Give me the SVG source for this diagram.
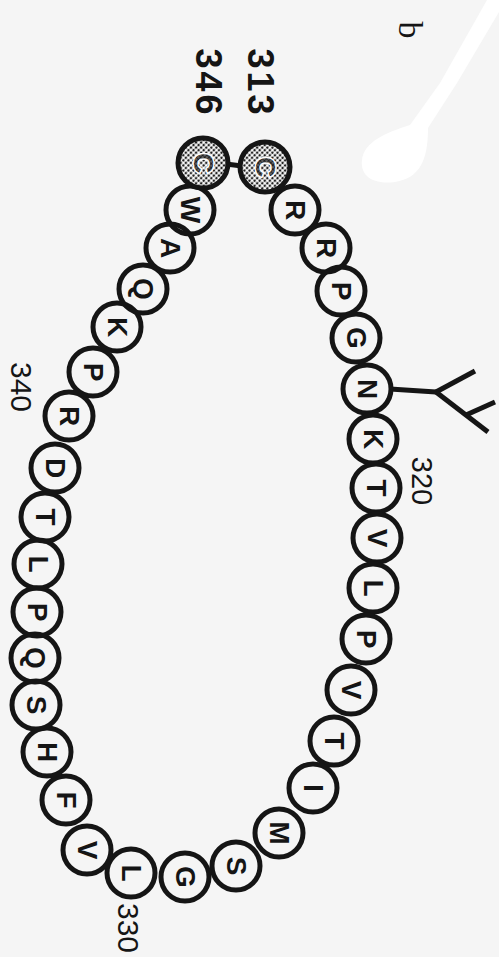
<svg xmlns="http://www.w3.org/2000/svg" width="499" height="957" viewBox="0 0 499 957">
<defs>
<pattern id="dots" width="3.6" height="3.6" patternUnits="userSpaceOnUse" patternTransform="rotate(45)"><rect width="3.6" height="3.6" fill="#fff"/><circle cx="1.8" cy="1.8" r="1.3" fill="#222"/></pattern>
<pattern id="dots2" width="3" height="3" patternUnits="userSpaceOnUse" patternTransform="rotate(45)"><rect width="3" height="3" fill="#777"/><circle cx="1.5" cy="1.5" r="1.2" fill="#111"/></pattern>
<style>
.res circle{fill:none;stroke:#151515;stroke-width:5}
.res.sh circle{fill:url(#dots)}
.res text{font-family:"Liberation Sans",Arial,sans-serif;font-weight:bold;font-size:28px;fill:#151515;text-anchor:middle;dominant-baseline:central}
.res.sh text{fill:url(#dots2);stroke:#fff;stroke-width:3;paint-order:stroke}
.num{font-family:"Liberation Sans Narrow","Liberation Sans",Arial,sans-serif;font-size:30px;fill:#151515;text-anchor:middle;dominant-baseline:central}
.big{font-family:"Liberation Sans",Arial,sans-serif;font-weight:bold;font-size:36px;letter-spacing:3px;fill:#151515;text-anchor:middle;dominant-baseline:central}
.conn line{stroke:#151515;stroke-width:5;stroke-linecap:butt}
</style>
</defs>
<rect width="499" height="957" fill="#f5f5f5"/>
<path d="M487 0 L499 0 L499 12 L457 83 L428 128 C428 160 420 178 395 182 C372 185 360 175 362 160 C364 142 385 133 410 125 L440 83 Z" fill="#fff"/>
<g id="connectors" class="conn">
<line x1="226" y1="164" x2="242" y2="166" stroke-width="4"/>
<line x1="390" y1="389" x2="436" y2="392"/>
<line x1="436" y1="392" x2="475" y2="371"/>
<line x1="436" y1="392" x2="488" y2="432"/>
<line x1="466" y1="415" x2="495" y2="402"/>
</g>
<g id="labels">
<text class="num" x="410" y="30" transform="rotate(90 410 30)" style="font-family:'Liberation Serif',serif;font-size:34px">b</text>
<text class="big" x="260" y="83" transform="rotate(90 260 83)">313</text>
<text class="big" x="208" y="83" transform="rotate(90 208 83)">346</text>
<text class="num" x="422" y="481" transform="rotate(90 422 481)" style="font-size:29px">320</text>
<text class="num" x="128" y="928" transform="rotate(90 128 928)">330</text>
<text class="num" x="21" y="387" transform="rotate(90 21 387)">340</text>
</g>
<g id="r313" class="res sh"><circle cx="265" cy="167" r="25"/><text x="265" y="167" transform="rotate(90 265 167)">C</text></g>
<g id="r314" class="res"><circle cx="295" cy="210" r="24"/><text x="295" y="210" transform="rotate(90 295 210)">R</text></g>
<g id="r315" class="res"><circle cx="326" cy="248" r="24"/><text x="326" y="248" transform="rotate(90 326 248)">R</text></g>
<g id="r316" class="res"><circle cx="341" cy="291" r="24"/><text x="341" y="291" transform="rotate(90 341 291)">P</text></g>
<g id="r317" class="res"><circle cx="356" cy="338" r="24"/><text x="356" y="338" transform="rotate(90 356 338)">G</text></g>
<g id="r318" class="res"><circle cx="367" cy="389" r="24"/><text x="367" y="389" transform="rotate(90 367 389)">N</text></g>
<g id="r319" class="res"><circle cx="373" cy="439" r="24"/><text x="373" y="439" transform="rotate(90 373 439)">K</text></g>
<g id="r320" class="res"><circle cx="376" cy="488" r="24"/><text x="376" y="488" transform="rotate(90 376 488)">T</text></g>
<g id="r321" class="res"><circle cx="377" cy="538" r="24"/><text x="377" y="538" transform="rotate(90 377 538)">V</text></g>
<g id="r322" class="res"><circle cx="373" cy="588" r="24"/><text x="373" y="588" transform="rotate(90 373 588)">L</text></g>
<g id="r323" class="res"><circle cx="366" cy="639" r="24"/><text x="366" y="639" transform="rotate(90 366 639)">P</text></g>
<g id="r324" class="res"><circle cx="351" cy="690" r="24"/><text x="351" y="690" transform="rotate(90 351 690)">V</text></g>
<g id="r325" class="res"><circle cx="334" cy="741" r="24"/><text x="334" y="741" transform="rotate(90 334 741)">T</text></g>
<g id="r326" class="res"><circle cx="313" cy="788" r="24"/><text x="313" y="788" transform="rotate(90 313 788)">I</text></g>
<g id="r327" class="res"><circle cx="279" cy="833" r="24"/><text x="279" y="833" transform="rotate(90 279 833)">M</text></g>
<g id="r328" class="res"><circle cx="236" cy="866" r="24"/><text x="236" y="866" transform="rotate(90 236 866)">S</text></g>
<g id="r329" class="res"><circle cx="185" cy="877" r="24"/><text x="185" y="877" transform="rotate(90 185 877)">G</text></g>
<g id="r330" class="res"><circle cx="131" cy="873" r="24"/><text x="131" y="873" transform="rotate(90 131 873)">L</text></g>
<g id="r331" class="res"><circle cx="87" cy="850" r="24"/><text x="87" y="850" transform="rotate(90 87 850)">V</text></g>
<g id="r332" class="res"><circle cx="66" cy="800" r="24"/><text x="66" y="800" transform="rotate(90 66 800)">F</text></g>
<g id="r333" class="res"><circle cx="47" cy="752" r="24"/><text x="47" y="752" transform="rotate(90 47 752)">H</text></g>
<g id="r334" class="res"><circle cx="36" cy="705" r="24"/><text x="36" y="705" transform="rotate(90 36 705)">S</text></g>
<g id="r335" class="res"><circle cx="35" cy="658" r="24"/><text x="35" y="658" transform="rotate(90 35 658)">Q</text></g>
<g id="r336" class="res"><circle cx="37" cy="612" r="24"/><text x="37" y="612" transform="rotate(90 37 612)">P</text></g>
<g id="r337" class="res"><circle cx="38" cy="564" r="24"/><text x="38" y="564" transform="rotate(90 38 564)">L</text></g>
<g id="r338" class="res"><circle cx="45" cy="517" r="24"/><text x="45" y="517" transform="rotate(90 45 517)">T</text></g>
<g id="r339" class="res"><circle cx="55" cy="468" r="24"/><text x="55" y="468" transform="rotate(90 55 468)">D</text></g>
<g id="r340" class="res"><circle cx="69" cy="416" r="24"/><text x="69" y="416" transform="rotate(90 69 416)">R</text></g>
<g id="r341" class="res"><circle cx="93" cy="372" r="24"/><text x="93" y="372" transform="rotate(90 93 372)">P</text></g>
<g id="r342" class="res"><circle cx="117" cy="327" r="24"/><text x="117" y="327" transform="rotate(90 117 327)">K</text></g>
<g id="r343" class="res"><circle cx="143" cy="289" r="24"/><text x="143" y="289" transform="rotate(90 143 289)">Q</text></g>
<g id="r344" class="res"><circle cx="170" cy="248" r="24"/><text x="170" y="248" transform="rotate(90 170 248)">A</text></g>
<g id="r345" class="res"><circle cx="190" cy="210" r="24"/><text x="190" y="210" transform="rotate(90 190 210)">W</text></g>
<g id="r346" class="res sh"><circle cx="203" cy="163" r="25"/><text x="203" y="163" transform="rotate(90 203 163)">C</text></g>
</svg>
